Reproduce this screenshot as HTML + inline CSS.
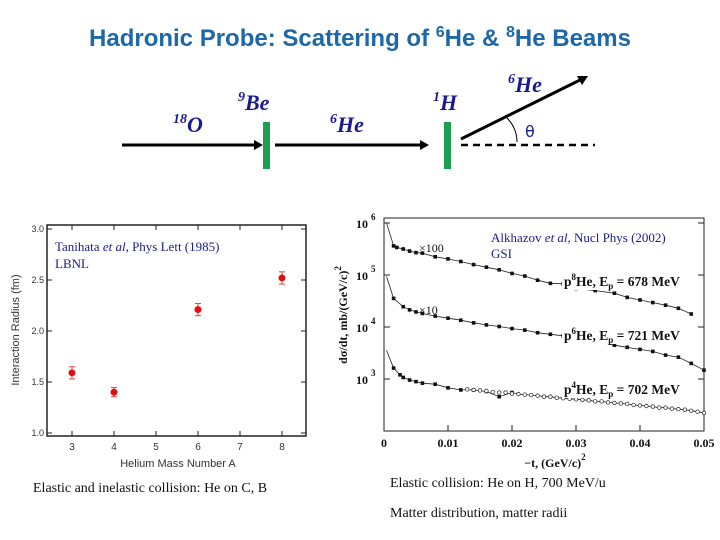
<!DOCTYPE html>
<html><head><meta charset="utf-8"><style>
html,body{margin:0;padding:0;background:#fff}
body{width:720px;height:540px;overflow:hidden;position:relative;font-family:"Liberation Sans",sans-serif}
svg{position:absolute;left:0;top:0}
</style></head><body>
<svg width="720" height="540" viewBox="0 0 720 540">
<text x="360" y="46" text-anchor="middle" font-family="Liberation Sans" font-weight="bold" font-size="24" fill="#1d68a8">Hadronic Probe: Scattering of <tspan font-size="16" dy="-9">6</tspan><tspan dy="9">He &amp; </tspan><tspan font-size="16" dy="-9">8</tspan><tspan dy="9">He Beams</tspan></text>
<g font-family="Liberation Serif" font-style="italic" font-weight="bold" fill="#1a1a90" font-size="22">
<line x1="122" y1="145" x2="256" y2="145" stroke="#000" stroke-width="3"/>
<polygon points="263,145 254,140 254,150" fill="#000"/>
<rect x="263" y="122" width="7" height="47" fill="#1aa050"/>
<line x1="275" y1="145" x2="421" y2="145" stroke="#000" stroke-width="3"/>
<polygon points="429,145 420,140 420,150" fill="#000"/>
<rect x="444" y="122" width="7" height="47" fill="#1aa050"/>
<line x1="461" y1="139" x2="580" y2="80" stroke="#000" stroke-width="3"/>
<polygon points="588,76 577,76 582,85" fill="#000"/>
<line x1="461" y1="145" x2="595" y2="145" stroke="#000" stroke-width="2.5" stroke-dasharray="7,5"/>
<path d="M505,116 Q517,127 517,142" fill="none" stroke="#000" stroke-width="1"/>
<text x="173" y="132"><tspan font-size="14" dy="-9">18</tspan><tspan dy="9">O</tspan></text>
<text x="238" y="110"><tspan font-size="14" dy="-9">9</tspan><tspan dy="9">Be</tspan></text>
<text x="330" y="132"><tspan font-size="14" dy="-9">6</tspan><tspan dy="9">He</tspan></text>
<text x="433" y="110"><tspan font-size="14" dy="-9">1</tspan><tspan dy="9">H</tspan></text>
<text x="508" y="92"><tspan font-size="14" dy="-9">6</tspan><tspan dy="9">He</tspan></text>
<text x="525" y="137" font-style="normal" font-weight="normal" font-family="DejaVu Sans" font-size="16">θ</text>
</g>
<g id="left"></g>
<g id="right"></g>
<g font-family="Liberation Serif" font-size="14" fill="#111">
<text x="33" y="492">Elastic and inelastic collision: He on C, B</text>
<text x="390" y="487">Elastic collision: He on H, 700 MeV/u</text>
<text x="390" y="517">Matter distribution, matter radii</text>
</g>
</svg>
<script>
const massNumbers=[3,4,6,8];
const radii=[1.59,1.40,2.21,2.52];
const radiusErr=[0.06,0.045,0.06,0.06];
const radiusYTicks=["1.0","1.5","2.0","2.5","3.0"];
const radiusXTicks=[3,4,5,6,7,8];

const tTickLabels=["0","0.01","0.02","0.03","0.04","0.05"];
const tTicks=[0,0.01,0.02,0.03,0.04,0.05];
const logTicks=[3,4,5,6];
const t8=[0.0015,0.002,0.003,0.004,0.005,0.006,0.008,0.010,0.012,0.014,0.016,0.018,0.020,0.022,0.024,0.026,0.028,0.030,0.033,0.036,0.038,0.040,0.042,0.044,0.046,0.048];
const log8=[5.56,5.53,5.50,5.46,5.43,5.42,5.35,5.31,5.26,5.20,5.15,5.10,5.03,4.98,4.90,4.84,4.83,4.74,4.70,4.65,4.57,4.52,4.47,4.42,4.36,4.25];
const t6=[0.0015,0.003,0.004,0.005,0.006,0.008,0.010,0.012,0.014,0.016,0.018,0.020,0.022,0.024,0.026,0.028,0.030,0.033,0.036,0.038,0.040,0.042,0.044,0.046,0.048,0.050];
const log6=[4.55,4.39,4.33,4.29,4.26,4.21,4.17,4.13,4.08,4.04,4.01,3.97,3.94,3.89,3.86,3.83,3.78,3.73,3.65,3.61,3.57,3.53,3.46,3.42,3.30,3.17];
const t4=[0.0015,0.0025,0.003,0.004,0.005,0.006,0.008,0.010,0.012,0.014,0.016,0.018,0.020];
const log4=[3.21,3.08,3.03,2.98,2.95,2.92,2.90,2.83,2.79,2.79,2.76,2.66,2.74];
const t4open=[0.013,0.014,0.015,0.016,0.017,0.018,0.019,0.020,0.021,0.022,0.023,0.024,0.025,0.026,0.027,0.028,0.029,0.030,0.031,0.032,0.033,0.034,0.035,0.036,0.037,0.038,0.039,0.040,0.041,0.042,0.043,0.044,0.045,0.046,0.047,0.048,0.049,0.050];
const log4open=[2.80,2.79,2.78,2.77,2.75,2.74,2.74,2.72,2.71,2.70,2.69,2.68,2.66,2.66,2.64,2.63,2.62,2.61,2.60,2.59,2.57,2.57,2.55,2.54,2.53,2.52,2.50,2.49,2.48,2.47,2.45,2.45,2.43,2.42,2.41,2.39,2.37,2.35];
const peakT=[0.0004,0.0004,0.0004];
const peakLog=[6.0,4.97,3.55];

const NS="http://www.w3.org/2000/svg";
function mk(parent,tag,attrs,txt){const e=document.createElementNS(NS,tag);for(const k in attrs)e.setAttribute(k,attrs[k]);if(txt!==undefined)e.textContent=txt;parent.appendChild(e);return e;}

// left chart
const L=document.getElementById('left');
const lx=a=>72+(a-3)*42, ly=v=>433-(v-1.0)*102;
const lf=mk(L,'rect',{x:47,y:225,width:259,height:211,fill:'none',stroke:'#222','stroke-width':1.5});

radiusYTicks.forEach(s=>{const v=parseFloat(s);const y=ly(v);
 mk(L,'line',{x1:47,y1:y,x2:52,y2:y,stroke:'#222'});mk(L,'line',{x1:301,y1:y,x2:306,y2:y,stroke:'#222'});
 const t=mk(L,'text',{x:44,y:y+3,'text-anchor':'end','font-size':9,fill:'#333'},s);
 });
radiusXTicks.forEach(a=>{const x=lx(a);mk(L,'line',{x1:x,y1:436,x2:x,y2:431,stroke:'#222'});mk(L,'line',{x1:x,y1:225,x2:x,y2:230,stroke:'#222'});
 const t=mk(L,'text',{x:x,y:450,'text-anchor':'middle','font-size':10,fill:'#333'},a);
 });
const lxt=mk(L,'text',{x:178,y:467,'text-anchor':'middle','font-size':11,fill:'#333'},'Helium Mass Number A');

const lyt=mk(L,'text',{x:19,y:330,'text-anchor':'middle','font-size':11,fill:'#333',transform:'rotate(-90 19 330)'},'Interaction Radius (fm)');

massNumbers.forEach((a,i)=>{const x=lx(a),y=ly(radii[i]),e=radiusErr[i]*102;
 mk(L,'line',{x1:x,y1:y-e,x2:x,y2:y+e,stroke:'#d44'});mk(L,'line',{x1:x-3,y1:y-e,x2:x+3,y2:y-e,stroke:'#d44'});mk(L,'line',{x1:x-3,y1:y+e,x2:x+3,y2:y+e,stroke:'#d44'});
 const c=mk(L,'circle',{cx:x,cy:y,r:3.5,fill:'#e01010'});
 });
const la=mk(L,'text',{x:55,y:251,'font-family':'Liberation Serif','font-size':13,fill:'#1a1a90'});
la.innerHTML='Tanihata <tspan font-style="italic">et al</tspan>, Phys Lett (1985)';

const lb=mk(L,'text',{x:55,y:268,'font-family':'Liberation Serif','font-size':13,fill:'#1a1a90'},'LBNL');


// right chart
const R=document.getElementById('right');
const rx=t=>384+t*6400, ry=l=>379-(l-3)*52;
const rf=mk(R,'rect',{x:384,y:218,width:320,height:213,fill:'none',stroke:'#222','stroke-width':1});

logTicks.forEach(l=>{const y=ry(l);mk(R,'line',{x1:384,y1:y,x2:390,y2:y,stroke:'#222'});mk(R,'line',{x1:698,y1:y,x2:704,y2:y,stroke:'#222'});
 const t=mk(R,'text',{x:356,y:y+5,'font-family':'Liberation Serif','font-weight':'bold','font-size':12,fill:'#111'});
 t.innerHTML='10 <tspan font-size="9" dy="-8">'+l+'</tspan>';
 });
tTicks.forEach((v,i)=>{const x=rx(v);mk(R,'line',{x1:x,y1:431,x2:x,y2:425,stroke:'#222'});
 const t=mk(R,'text',{x:x,y:447,'text-anchor':'middle','font-family':'Liberation Serif','font-weight':'bold','font-size':12,fill:'#111'},tTickLabels[i]);
 });
const rxt=mk(R,'text',{x:555,y:467,'text-anchor':'middle','font-family':'Liberation Serif','font-weight':'bold','font-size':12,fill:'#111'});
rxt.innerHTML='−t, (GeV/c)<tspan font-size="9" dy="-7">2</tspan>';

const ryt=mk(R,'text',{x:347,y:315,'text-anchor':'middle','font-family':'Liberation Serif','font-weight':'bold','font-size':12,fill:'#111',transform:'rotate(-90 347 315)'});
ryt.innerHTML='dσ/dt, mb/(GeV/c)<tspan font-size="9" dy="-6">2</tspan>';

function fit(ts,ls,pi){let d='M'+rx(peakT[pi])+','+ry(peakLog[pi]);ts.forEach((t,i)=>{d+=' L'+rx(t).toFixed(1)+','+ry(ls[i]).toFixed(1);});
 const p=mk(R,'path',{d:d,fill:'none',stroke:'#222','stroke-width':0.8});
 }
fit(t8,log8,0);fit(t6,log6,1);fit(t4.concat(t4open.slice(8)),log4.concat(log4open.slice(8)),2);
function pts(ts,ls,open){ts.forEach((t,i)=>{const c=open?mk(R,'circle',{cx:rx(t),cy:ry(ls[i]),r:1.8,fill:'#fff',stroke:'#222','stroke-width':0.7}):mk(R,'rect',{x:rx(t)-1.8,y:ry(ls[i])-1.8,width:3.6,height:3.6,fill:'#111'});
 });}
pts(t8,log8,false);pts(t6,log6,false);pts(t4,log4,false);pts(t4open,log4open,true);
const lab=(x,y,html,name,sz)=>{const t=mk(R,'text',{x:x,y:y,'font-family':'Liberation Serif','font-size':sz||12,fill:'#111'});t.innerHTML=html;return t;};
lab(419,252,'×100','scale-100-label');lab(419,314,'×10','scale-10-label');
const sl=(y,n,e,name)=>{mk(R,'rect',{x:562,y:y-14,width:124,height:18,fill:'#fff'});
 lab(564,y,'<tspan font-weight="bold">p<tspan font-size="9" dy="-6">'+n+'</tspan><tspan dy="6">He, E</tspan><tspan font-size="9" dy="3">p</tspan><tspan dy="-3"> = '+e+' MeV</tspan></tspan>',name,13.5);};
sl(286,8,678,'he8-label');sl(340,6,721,'he6-label');sl(394,4,702,'he4-label');
const rc=mk(R,'text',{x:491,y:242,'font-family':'Liberation Serif','font-size':13,fill:'#1a1a90'});
rc.innerHTML='Alkhazov <tspan font-style="italic">et al</tspan>, Nucl Phys (2002)';

const rg=mk(R,'text',{x:491,y:258,'font-family':'Liberation Serif','font-size':13,fill:'#1a1a90'},'GSI');

</script>
</body></html>
